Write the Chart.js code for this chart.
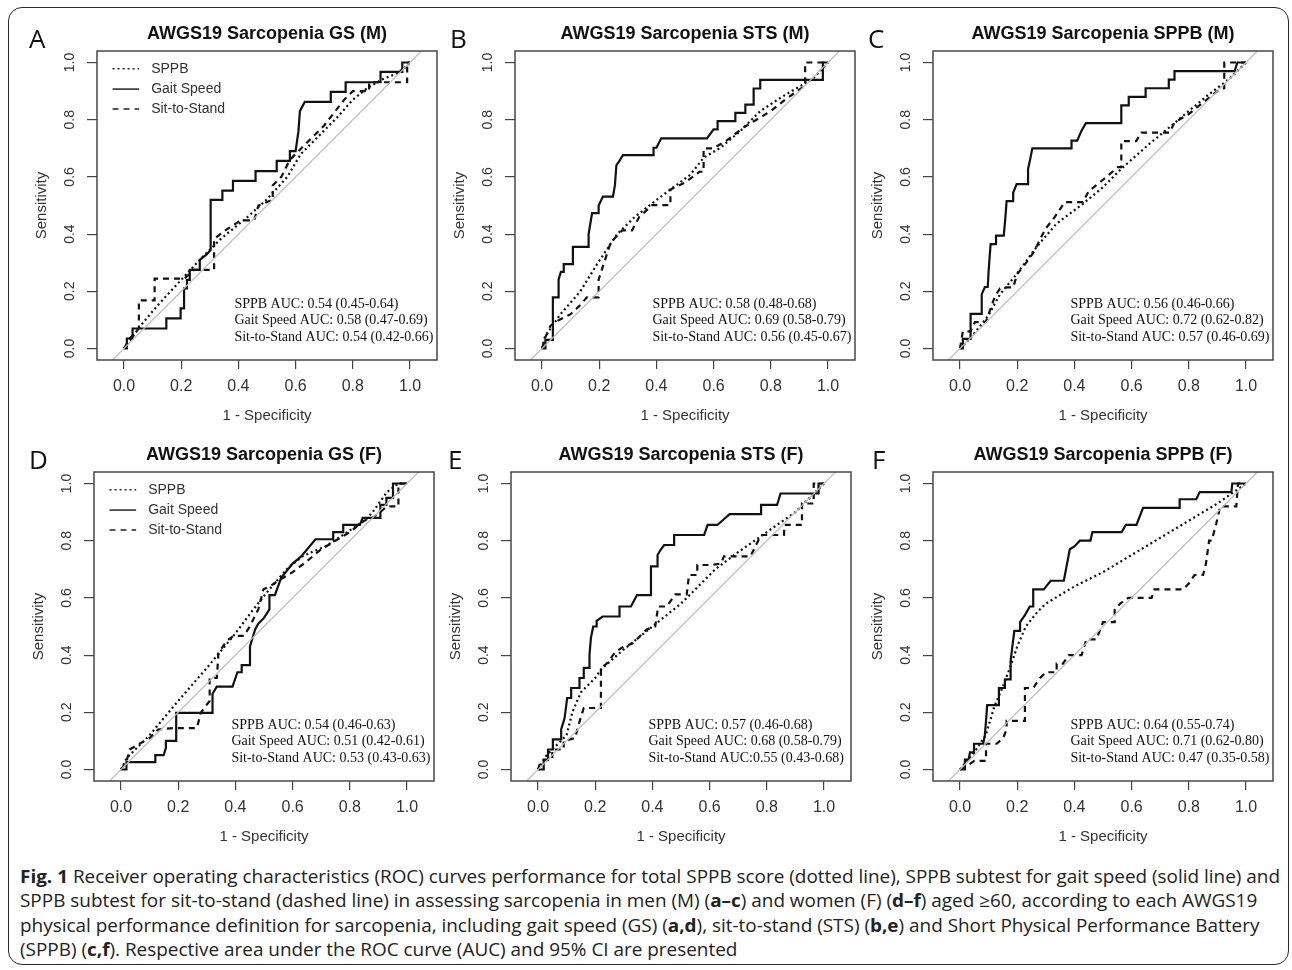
<!DOCTYPE html>
<html>
<head>
<meta charset="utf-8">
<script src="https://cdn.jsdelivr.net/npm/chart.js@4.4.0/dist/chart.umd.min.js"></script>
<style>
  body { margin: 0; background: #fff; width: 1292px; height: 970px; position: relative; overflow: hidden; font-family: "Open Sans", "Noto Sans", sans-serif; }
  .frame { position: absolute; left: 8px; top: 7px; width: 1281px; height: 958px; box-sizing: border-box; border: 1.6px solid #2a2a2a; border-radius: 14px; }
  canvas { position: absolute; }
  .tag { position: absolute; font-size: 26px; line-height: 26px; color: #111; }
  .cap { position: absolute; left: 20px; top: 863.5px; font-size: 18px; line-height: 24.6px; color: #222; white-space: nowrap; }
  .cap div { transform-origin: 0 0; }
</style>
</head>
<body>
<div class="frame"></div>
<div class="cap" id="cap">
  <div><b>Fig. 1</b> Receiver operating characteristics (ROC) curves performance for total SPPB score (dotted line), SPPB subtest for gait speed (solid line) and</div>
  <div>SPPB subtest for sit-to-stand (dashed line) in assessing sarcopenia in men (M) (<b>a–c</b>) and women (F) (<b>d–f</b>) aged ≥60, according to each AWGS19</div>
  <div>physical performance definition for sarcopenia, including gait speed (GS) (<b>a,d</b>), sit-to-stand (STS) (<b>b,e</b>) and Short Physical Performance Battery</div>
  <div>(SPPB) (<b>c,f</b>). Respective area under the ROC curve (AUC) and 95% CI are presented</div>
</div>
<script>
// ---- data ----
const xTicks = [0, 0.2, 0.4, 0.6, 0.8, 1.0];
const yTicks = [0, 0.2, 0.4, 0.6, 0.8, 1.0];
const panelTags = ['A', 'B', 'C', 'D', 'E', 'F'];
const panelTitles = [
  'AWGS19 Sarcopenia GS (M)', 'AWGS19 Sarcopenia STS (M)', 'AWGS19 Sarcopenia SPPB (M)',
  'AWGS19 Sarcopenia GS (F)', 'AWGS19 Sarcopenia STS (F)', 'AWGS19 Sarcopenia SPPB (F)'
];
const seriesNames = ['SPPB', 'Gait Speed', 'Sit-to-Stand'];
const aucSppbText = [
  'SPPB AUC: 0.54 (0.45-0.64)', 'SPPB AUC: 0.58 (0.48-0.68)', 'SPPB AUC: 0.56 (0.46-0.66)',
  'SPPB AUC: 0.54 (0.46-0.63)', 'SPPB AUC: 0.57 (0.46-0.68)', 'SPPB AUC: 0.64 (0.55-0.74)'
];
const aucGaitText = [
  'Gait Speed AUC: 0.58 (0.47-0.69)', 'Gait Speed AUC: 0.69 (0.58-0.79)', 'Gait Speed AUC: 0.72 (0.62-0.82)',
  'Gait Speed AUC: 0.51 (0.42-0.61)', 'Gait Speed AUC: 0.68 (0.58-0.79)', 'Gait Speed AUC: 0.71 (0.62-0.80)'
];
const aucStsText = [
  'Sit-to-Stand AUC: 0.54 (0.42-0.66)', 'Sit-to-Stand AUC: 0.56 (0.45-0.67)', 'Sit-to-Stand AUC: 0.57 (0.46-0.69)',
  'Sit-to-Stand AUC: 0.53 (0.43-0.63)', 'Sit-to-Stand AUC:0.55 (0.43-0.68)', 'Sit-to-Stand AUC: 0.47 (0.35-0.58)'
];
const diagonal = [[-0.1, -0.1], [1.1, 1.1]];

// A: GS (M)
const gsM_sppb = [[0,0],[0.03,0.04],[0.058,0.08],[0.117,0.15],[0.198,0.238],[0.268,0.313],[0.338,0.383],[0.431,0.459],[0.501,0.523],[0.571,0.6],[0.618,0.68],[0.688,0.75],[0.746,0.809],[0.8,0.87],[0.85,0.91],[0.9,0.94],[0.95,0.96],[0.98,0.98],[1,1]];
const gsM_gait = [[0,0],[0.01,0],[0.01,0.035],[0.03,0.035],[0.03,0.07],[0.148,0.07],[0.148,0.105],[0.198,0.105],[0.198,0.14],[0.21,0.14],[0.21,0.21],[0.22,0.21],[0.22,0.24],[0.23,0.24],[0.23,0.275],[0.265,0.275],[0.265,0.31],[0.29,0.33],[0.303,0.345],[0.303,0.52],[0.344,0.52],[0.344,0.552],[0.381,0.552],[0.381,0.586],[0.46,0.586],[0.46,0.62],[0.534,0.62],[0.534,0.656],[0.58,0.656],[0.58,0.69],[0.6,0.69],[0.61,0.76],[0.615,0.83],[0.632,0.862],[0.723,0.862],[0.723,0.897],[0.775,0.897],[0.775,0.931],[0.897,0.931],[0.897,0.967],[0.973,0.967],[0.973,1],[1,1]];
const gsM_sts = [[0,0],[0.02,0.035],[0.052,0.07],[0.052,0.168],[0.107,0.168],[0.107,0.244],[0.21,0.244],[0.245,0.275],[0.315,0.275],[0.315,0.383],[0.35,0.41],[0.408,0.448],[0.455,0.448],[0.47,0.5],[0.52,0.52],[0.52,0.57],[0.55,0.6],[0.58,0.66],[0.64,0.72],[0.7,0.78],[0.77,0.87],[0.8,0.9],[0.857,0.9],[0.857,0.931],[0.99,0.931],[0.99,1],[1,1]];

// B: STS (M)
const stsM_sppb = [[0,0],[0.01,0.04],[0.03,0.07],[0.064,0.119],[0.134,0.2],[0.192,0.294],[0.262,0.399],[0.321,0.457],[0.379,0.503],[0.449,0.556],[0.519,0.608],[0.565,0.667],[0.624,0.702],[0.693,0.76],[0.763,0.83],[0.833,0.876],[0.892,0.911],[0.95,0.946],[1,1]];
const stsM_gait = [[0,0],[0.012,0],[0.012,0.03],[0.038,0.03],[0.038,0.179],[0.058,0.179],[0.058,0.241],[0.066,0.268],[0.076,0.268],[0.076,0.295],[0.108,0.295],[0.108,0.355],[0.163,0.355],[0.163,0.4],[0.175,0.473],[0.198,0.473],[0.198,0.5],[0.213,0.531],[0.248,0.531],[0.255,0.571],[0.26,0.64],[0.27,0.655],[0.283,0.676],[0.39,0.676],[0.39,0.702],[0.4,0.702],[0.417,0.735],[0.577,0.735],[0.6,0.766],[0.614,0.766],[0.614,0.795],[0.676,0.795],[0.676,0.824],[0.711,0.824],[0.711,0.853],[0.74,0.853],[0.74,0.909],[0.763,0.909],[0.763,0.939],[0.982,0.939],[0.982,1],[1,1]];
const stsM_sts = [[0,0],[0.012,0.04],[0.03,0.08],[0.06,0.1],[0.1,0.12],[0.13,0.148],[0.157,0.179],[0.198,0.179],[0.198,0.241],[0.227,0.33],[0.24,0.37],[0.28,0.413],[0.315,0.413],[0.34,0.46],[0.385,0.501],[0.449,0.501],[0.449,0.556],[0.5,0.58],[0.551,0.618],[0.565,0.618],[0.565,0.7],[0.6,0.7],[0.65,0.73],[0.7,0.77],[0.75,0.8],[0.8,0.83],[0.85,0.87],[0.9,0.905],[0.92,0.92],[0.92,1],[1,1]];

// C: SPPB (M)
const sppbM_sppb = [[0,0],[0.03,0.03],[0.058,0.063],[0.099,0.115],[0.14,0.19],[0.198,0.26],[0.267,0.354],[0.337,0.436],[0.43,0.506],[0.5,0.564],[0.57,0.634],[0.663,0.716],[0.733,0.774],[0.802,0.832],[0.872,0.89],[0.942,0.943],[1,1]];
const sppbM_gait = [[0,0],[0.01,0],[0.01,0.034],[0.037,0.034],[0.037,0.121],[0.076,0.121],[0.076,0.19],[0.087,0.215],[0.097,0.215],[0.1,0.27],[0.107,0.365],[0.126,0.365],[0.126,0.395],[0.153,0.395],[0.158,0.45],[0.163,0.515],[0.186,0.515],[0.186,0.545],[0.198,0.575],[0.238,0.575],[0.238,0.628],[0.245,0.66],[0.253,0.7],[0.39,0.7],[0.39,0.727],[0.41,0.727],[0.424,0.76],[0.44,0.788],[0.564,0.788],[0.564,0.85],[0.59,0.85],[0.59,0.88],[0.649,0.88],[0.649,0.91],[0.73,0.91],[0.73,0.94],[0.75,0.94],[0.75,0.97],[0.96,0.97],[0.97,1],[1,1]];
const sppbM_sts = [[0,0],[0.01,0.06],[0.037,0.06],[0.052,0.092],[0.09,0.092],[0.1,0.12],[0.122,0.182],[0.14,0.21],[0.163,0.214],[0.186,0.214],[0.2,0.26],[0.233,0.302],[0.26,0.34],[0.279,0.38],[0.3,0.42],[0.331,0.459],[0.366,0.512],[0.43,0.512],[0.45,0.55],[0.5,0.59],[0.552,0.634],[0.564,0.634],[0.564,0.725],[0.616,0.725],[0.634,0.755],[0.733,0.755],[0.75,0.79],[0.8,0.82],[0.85,0.86],[0.9,0.9],[0.924,0.91],[0.924,1],[1,1]];

// D: GS (F)
const gsF_sppb = [[0,0],[0.02,0.04],[0.1,0.12],[0.2,0.24],[0.3,0.355],[0.393,0.467],[0.463,0.56],[0.509,0.618],[0.579,0.7],[0.637,0.747],[0.719,0.782],[0.788,0.828],[0.858,0.875],[0.88,0.9],[0.93,0.97],[0.97,1],[1,1]];
const gsF_gait = [[0,0],[0.019,0],[0.019,0.026],[0.12,0.026],[0.12,0.05],[0.149,0.05],[0.157,0.075],[0.157,0.1],[0.193,0.1],[0.193,0.198],[0.32,0.198],[0.32,0.265],[0.335,0.29],[0.39,0.29],[0.407,0.34],[0.422,0.34],[0.422,0.365],[0.451,0.365],[0.451,0.43],[0.469,0.49],[0.48,0.51],[0.5,0.53],[0.519,0.56],[0.519,0.61],[0.538,0.61],[0.56,0.67],[0.6,0.72],[0.63,0.745],[0.68,0.805],[0.742,0.805],[0.742,0.83],[0.777,0.83],[0.777,0.855],[0.835,0.855],[0.845,0.88],[0.907,0.88],[0.907,0.925],[0.928,0.925],[0.928,0.95],[0.951,0.95],[0.951,1],[1,1]];
const gsF_sts = [[0,0],[0.02,0.03],[0.03,0.07],[0.1,0.11],[0.13,0.14],[0.184,0.145],[0.265,0.145],[0.28,0.2],[0.31,0.24],[0.31,0.32],[0.335,0.32],[0.341,0.408],[0.37,0.45],[0.393,0.467],[0.43,0.467],[0.45,0.5],[0.48,0.56],[0.498,0.63],[0.52,0.64],[0.55,0.66],[0.6,0.69],[0.626,0.71],[0.64,0.72],[0.7,0.77],[0.8,0.83],[0.85,0.87],[0.88,0.88],[0.93,0.92],[0.97,0.92],[0.97,1],[1,1]];

// E: STS (F)
const stsF_sppb = [[0,0],[0.03,0.05],[0.1,0.12],[0.12,0.2],[0.15,0.27],[0.2,0.32],[0.22,0.35],[0.3,0.42],[0.4,0.5],[0.5,0.58],[0.55,0.63],[0.62,0.7],[0.7,0.76],[0.8,0.83],[0.9,0.9],[0.96,0.96],[1,1]];
const stsF_gait = [[0,0],[0.02,0],[0.02,0.035],[0.035,0.035],[0.035,0.07],[0.052,0.07],[0.052,0.105],[0.081,0.105],[0.081,0.14],[0.093,0.18],[0.102,0.25],[0.116,0.25],[0.116,0.285],[0.145,0.285],[0.145,0.32],[0.16,0.32],[0.16,0.355],[0.18,0.355],[0.18,0.4],[0.185,0.46],[0.193,0.5],[0.205,0.5],[0.205,0.52],[0.226,0.535],[0.285,0.535],[0.285,0.57],[0.325,0.57],[0.346,0.61],[0.395,0.61],[0.395,0.71],[0.418,0.71],[0.418,0.75],[0.43,0.77],[0.441,0.785],[0.476,0.785],[0.476,0.82],[0.581,0.82],[0.593,0.855],[0.627,0.855],[0.65,0.875],[0.67,0.893],[0.78,0.893],[0.78,0.925],[0.836,0.925],[0.848,0.965],[0.981,0.965],[0.981,1],[1,1]];
const stsF_sts = [[0,0],[0.01,0.03],[0.05,0.035],[0.05,0.07],[0.09,0.07],[0.09,0.1],[0.13,0.11],[0.14,0.15],[0.16,0.215],[0.22,0.215],[0.22,0.355],[0.24,0.37],[0.27,0.41],[0.3,0.43],[0.33,0.44],[0.35,0.46],[0.38,0.49],[0.41,0.5],[0.42,0.57],[0.45,0.57],[0.48,0.612],[0.52,0.612],[0.528,0.68],[0.557,0.68],[0.557,0.715],[0.604,0.715],[0.64,0.72],[0.65,0.745],[0.743,0.745],[0.76,0.78],[0.78,0.82],[0.86,0.82],[0.862,0.855],[0.923,0.855],[0.923,0.93],[0.964,0.93],[0.964,1],[1,1]];

// F: SPPB (F)
const sppbF_sppb = [[0,0],[0.05,0.06],[0.09,0.12],[0.12,0.22],[0.15,0.29],[0.18,0.37],[0.2,0.43],[0.23,0.5],[0.27,0.55],[0.3,0.58],[0.35,0.61],[0.4,0.64],[0.5,0.69],[0.6,0.75],[0.7,0.81],[0.8,0.87],[0.9,0.93],[1,1]];
const sppbF_gait = [[0,0],[0.017,0],[0.017,0.035],[0.03,0.035],[0.035,0.06],[0.049,0.06],[0.049,0.09],[0.081,0.09],[0.087,0.12],[0.091,0.17],[0.095,0.225],[0.136,0.225],[0.136,0.285],[0.157,0.285],[0.157,0.315],[0.177,0.315],[0.177,0.38],[0.183,0.43],[0.19,0.485],[0.21,0.485],[0.21,0.515],[0.227,0.54],[0.244,0.57],[0.256,0.57],[0.256,0.63],[0.293,0.63],[0.317,0.66],[0.363,0.66],[0.384,0.77],[0.4,0.78],[0.419,0.8],[0.456,0.8],[0.463,0.83],[0.565,0.83],[0.58,0.855],[0.617,0.855],[0.64,0.915],[0.768,0.915],[0.768,0.945],[0.826,0.945],[0.838,0.97],[0.949,0.97],[0.952,1],[1,1]];
const sppbF_sts = [[0,0],[0.02,0.01],[0.05,0.03],[0.091,0.03],[0.091,0.09],[0.128,0.09],[0.151,0.11],[0.163,0.14],[0.163,0.17],[0.227,0.17],[0.227,0.285],[0.256,0.285],[0.28,0.32],[0.3,0.34],[0.338,0.34],[0.338,0.37],[0.36,0.37],[0.38,0.4],[0.425,0.4],[0.442,0.455],[0.477,0.455],[0.5,0.515],[0.541,0.515],[0.541,0.56],[0.56,0.58],[0.588,0.6],[0.67,0.6],[0.68,0.63],[0.78,0.63],[0.8,0.65],[0.82,0.68],[0.85,0.68],[0.86,0.72],[0.871,0.8],[0.88,0.8],[0.896,0.86],[0.91,0.92],[0.966,0.92],[0.972,1],[1,1]];

const panelCurves = [
  [gsM_sppb, gsM_gait, gsM_sts],
  [stsM_sppb, stsM_gait, stsM_sts],
  [sppbM_sppb, sppbM_gait, sppbM_sts],
  [gsF_sppb, gsF_gait, gsF_sts],
  [stsF_sppb, stsF_gait, stsF_sts],
  [sppbF_sppb, sppbF_gait, sppbF_sts]
];

// ---- layout / style ----
const boxes = [
  { l: 97, t: 51 }, { l: 515, t: 51 }, { l: 933, t: 51 },
  { l: 94, t: 472 }, { l: 511, t: 472 }, { l: 933, t: 472 }
];
const tagPos = [[29, 25.4], [450, 25.4], [868, 25.4], [29, 446.3], [448, 446.3], [872, 446.3]];
const BOX_W = 340, BOX_H = 309, YW = 70, XH = 70, TH = 28, RP = 12;
const XMIN = -0.0944, XMAX = 1.0944, YMIN = -0.0402, YMAX = 1.0402;
const seriesDash = [[2, 3], [], [6, 5]];
const INK = '#111';
const SANS = '"Liberation Sans", Arial, sans-serif';
const SERIF = '"Liberation Serif", "Times New Roman", serif';
const aucX = 0.386, aucRows = [0.156, 0.097, 0.038];
const legRows = [0.978, 0.907, 0.837], legLine = [-0.04, 0.053], legTextX = 0.095;

const toPts = arr => arr.map(p => ({ x: p[0], y: p[1] }));

const rocDecor = {
  id: 'rocDecor',
  afterDraw(chart, args, opts) {
    const { ctx, chartArea: a, scales: { x, y } } = chart;
    ctx.save();
    ctx.strokeStyle = '#474747';
    ctx.lineWidth = 1.5;
    ctx.strokeRect(a.left, a.top, a.right - a.left, a.bottom - a.top);

    ctx.fillStyle = INK;
    ctx.textAlign = 'left';
    ctx.textBaseline = 'middle';
    ctx.font = '14px ' + SERIF;
    opts.auc.forEach((t, k) => ctx.fillText(t, x.getPixelForValue(aucX), y.getPixelForValue(aucRows[k])));

    if (opts.legend) {
      ctx.font = '14px ' + SANS;
      ctx.fillStyle = '#333';
      seriesNames.forEach((name, k) => {
        const py = y.getPixelForValue(legRows[k]);
        ctx.beginPath();
        ctx.setLineDash(seriesDash[k]);
        ctx.lineWidth = 1.5;
        ctx.strokeStyle = '#222';
        ctx.moveTo(x.getPixelForValue(legLine[0]), py);
        ctx.lineTo(x.getPixelForValue(legLine[1]), py);
        ctx.stroke();
        ctx.setLineDash([]);
        ctx.fillText(name, x.getPixelForValue(legTextX), py);
      });
    }
    ctx.restore();
  }
};

function makePanel(i) {
  const b = boxes[i];
  const w = YW + BOX_W + RP, h = TH + BOX_H + XH;
  const cv = document.createElement('canvas');
  cv.width = w; cv.height = h;
  cv.style.left = (b.l - YW) + 'px';
  cv.style.top = (b.t - TH) + 'px';
  cv.style.width = w + 'px';
  cv.style.height = h + 'px';
  document.body.appendChild(cv);

  const datasets = [{
    data: toPts(diagonal), borderColor: '#bdbdbd', borderWidth: 1.2, pointRadius: 0
  }];
  panelCurves[i].forEach((c, k) => datasets.push({
    label: seriesNames[k], data: toPts(c), borderColor: INK, borderWidth: 2.2,
    borderDash: seriesDash[k], pointRadius: 0, tension: 0
  }));

  new Chart(cv, {
    type: 'line',
    data: { datasets },
    plugins: [rocDecor],
    options: {
      responsive: false,
      animation: false,
      devicePixelRatio: 1,
      layout: { padding: { left: 0, right: RP, top: 0, bottom: 0 } },
      plugins: {
        legend: { display: false },
        tooltip: { enabled: false },
        title: {
          display: true, text: panelTitles[i], fullSize: false, color: INK,
          font: { family: SANS, size: 18, weight: 'bold', lineHeight: 1.2 },
          padding: { top: 0, bottom: 6.4 }
        },
        rocDecor: {
          auc: [aucSppbText[i], aucGaitText[i], aucStsText[i]],
          legend: i === 0 || i === 3
        }
      },
      scales: {
        x: {
          type: 'linear', min: XMIN, max: XMAX,
          afterBuildTicks: s => { s.ticks = xTicks.map(v => ({ value: v })); },
          afterFit: s => { s.height = XH; },
          border: { display: false },
          grid: { drawOnChartArea: false, drawTicks: true, tickLength: 9, color: '#444', lineWidth: 1.2 },
          ticks: {
            autoSkip: false, maxRotation: 0, minRotation: 0, padding: 8, color: '#333',
            font: { family: SANS, size: 16 }, callback: v => v.toFixed(1)
          },
          title: {
            display: true, text: '1 - Specificity', color: '#333',
            font: { family: SANS, size: 15, lineHeight: 1.2 }, padding: { top: 0, bottom: 5 }
          }
        },
        y: {
          type: 'linear', min: YMIN, max: YMAX,
          afterBuildTicks: s => { s.ticks = yTicks.map(v => ({ value: v })); },
          afterFit: s => { s.width = YW; },
          border: { display: false },
          grid: { drawOnChartArea: false, drawTicks: true, tickLength: 10, color: '#444', lineWidth: 1.2 },
          ticks: {
            autoSkip: false, minRotation: 90, maxRotation: 90, crossAlign: 'center', padding: 7,
            color: '#333', font: { family: SANS, size: 14 }, callback: v => v.toFixed(1)
          },
          title: {
            display: true, text: 'Sensitivity', color: '#333',
            font: { family: SANS, size: 15, lineHeight: 1.2 }, padding: { top: 6, bottom: 0 }
          }
        }
      }
    }
  });

  const tag = document.createElement('div');
  tag.className = 'tag';
  tag.textContent = panelTags[i];
  tag.style.left = tagPos[i][0] + 'px';
  tag.style.top = tagPos[i][1] + 'px';
  document.body.appendChild(tag);
}

for (let i = 0; i < 6; i++) makePanel(i);

// fit caption width to the original column
const capLines = document.querySelectorAll('#cap div');
const natural = capLines[0].getBoundingClientRect().width;
const scale = 1260 / natural;
capLines.forEach(d => { d.style.transform = 'scaleX(' + scale + ')'; });
</script>
</body>
</html>
